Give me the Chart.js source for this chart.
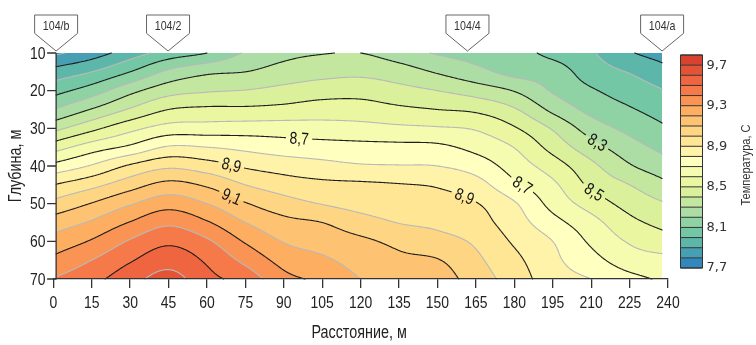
<!DOCTYPE html>
<html>
<head>
<meta charset="utf-8">
<script src="https://cdn.jsdelivr.net/npm/chart.js@4.4.1/dist/chart.umd.min.js"></script>
<style>
  html, body { margin: 0; padding: 0; background: #fff; }
  #wrap { width: 756px; height: 345px; }
</style>
</head>
<body>
<div id="wrap"><canvas id="chart" width="756" height="345"></canvas></div>
<script>
// grid of the survey: distance along the line (m) and depth (m)
const DISTANCES = [0, 15, 30, 45, 60, 75, 90, 105, 120, 135, 150, 165, 180, 195, 210, 225, 240];
const DEPTHS = [10, 15, 20, 25, 30, 35, 40, 45, 50, 55, 60, 65, 70];

// temperature (C) in each column, from 10 m down to 70 m
const T_0   = [7.78, 7.936, 8.062, 8.20, 8.368, 8.554, 8.728, 8.90, 9.027, 9.145, 9.237, 9.322, 9.405];
const T_15  = [7.85, 8.00, 8.15, 8.306, 8.473, 8.65, 8.81, 8.97, 9.105, 9.213, 9.31, 9.40, 9.47];
const T_30  = [7.95, 8.10, 8.27, 8.41, 8.57, 8.72, 8.914, 9.057, 9.19, 9.305, 9.41, 9.49, 9.56];
const T_45  = [8.04, 8.22, 8.36, 8.50, 8.64, 8.81, 8.98, 9.13, 9.26, 9.38, 9.48, 9.56, 9.64];
const T_60  = [8.10, 8.28, 8.39, 8.52, 8.645, 8.80, 8.945, 9.085, 9.20, 9.31, 9.415, 9.485, 9.53];
const T_75  = [8.21, 8.30, 8.404, 8.52, 8.65, 8.775, 8.887, 9.00, 9.107, 9.20, 9.29, 9.375, 9.46];
const T_90  = [8.27, 8.34, 8.43, 8.53, 8.65, 8.75, 8.855, 8.95, 9.04, 9.13, 9.195, 9.265, 9.33];
const T_105 = [8.295, 8.366, 8.455, 8.55, 8.64, 8.74, 8.83, 8.925, 8.996, 9.10, 9.158, 9.218, 9.28];
const T_120 = [8.30, 8.375, 8.463, 8.545, 8.633, 8.73, 8.81, 8.916, 8.964, 9.04, 9.12, 9.16, 9.20];
const T_135 = [8.25, 8.345, 8.432, 8.52, 8.62, 8.726, 8.805, 8.905, 8.95, 8.997, 9.075, 9.12, 9.15];
const T_150 = [8.19, 8.29, 8.40, 8.50, 8.61, 8.72, 8.80, 8.89, 8.937, 8.978, 9.035, 9.105, 9.15];
const T_165 = [8.16, 8.23, 8.355, 8.48, 8.59, 8.67, 8.755, 8.84, 8.905, 8.94, 8.985, 9.02, 9.05];
const T_180 = [8.14, 8.17, 8.295, 8.41, 8.51, 8.597, 8.655, 8.72, 8.81, 8.846, 8.887, 8.925, 8.955];
const T_195 = [8.07, 8.15, 8.19, 8.276, 8.39, 8.465, 8.55, 8.62, 8.667, 8.735, 8.80, 8.823, 8.845];
const T_210 = [8.01, 8.05, 8.112, 8.17, 8.253, 8.34, 8.425, 8.48, 8.557, 8.635, 8.684, 8.735, 8.80];
const T_225 = [7.91, 7.994, 8.053, 8.11, 8.173, 8.24, 8.31, 8.40, 8.463, 8.527, 8.59, 8.65, 8.73];
const T_240 = [7.85, 7.927, 7.997, 8.052, 8.106, 8.165, 8.234, 8.315, 8.40, 8.464, 8.535, 8.625, 8.68];
const TEMP = [T_0, T_15, T_30, T_45, T_60, T_75, T_90, T_105, T_120, T_135, T_150, T_165, T_180, T_195, T_210, T_225, T_240];

// wells on the profile
const WELL_NAMES = ['104/b', '104/2', '104/4', '104/a'];
const WELL_X = [1.1, 44.8, 161.7, 237.7];
const PROFILE_START = 1.1;
const PROFILE_END = 237.7;

// isotherm levels (colour bands) and labelled ticks
const LEVELS = [7.7, 7.8, 7.9, 8.0, 8.1, 8.2, 8.3, 8.4, 8.5, 8.6, 8.7, 8.8, 8.9, 9.0, 9.1, 9.2, 9.3, 9.4, 9.5, 9.6, 9.7, 9.8];
const CBAR_TICKS = [7.7, 8.1, 8.5, 8.9, 9.3, 9.7];
const X_TICKS = [0, 15, 30, 45, 60, 75, 90, 105, 120, 135, 150, 165, 180, 195, 210, 225, 240];
const Y_TICKS = [10, 20, 30, 40, 50, 60, 70];

// labelled isotherms: level, distance near which the label sits, rough depth
const LABEL_LEVELS = [8.9, 9.1, 8.7, 8.9, 8.7, 8.5, 8.3];
const LABEL_X = [69.5, 69.5, 96, 160.4, 183, 211, 212.3];
const LABEL_D = [40.1, 48.0, 32.6, 47.6, 45.4, 47.2, 33.9];

// no condensed face is installed, so text is squeezed to look like Arial Narrow
const SANS = '"Liberation Sans", Arial, sans-serif';
const SQUEEZE = 0.82;
const SPECTRAL = ['#5e4fa2', '#3288bd', '#66c2a5', '#abdda4', '#e6f598', '#ffffbf', '#fee08b', '#fdae61', '#f46d43', '#d8432f', '#9e0142'];
const CMAP_MIN = 7.5, CMAP_MAX = 10.0;

function hexRgb(h) {
  return [parseInt(h.slice(1, 3), 16), parseInt(h.slice(3, 5), 16), parseInt(h.slice(5, 7), 16)];
}
function cmap(v) {
  let t = (v - CMAP_MIN) / (CMAP_MAX - CMAP_MIN);
  t = Math.max(0, Math.min(1, t));
  const n = SPECTRAL.length - 1;
  const k = Math.min(n - 1, Math.floor(t * n));
  const f = t * n - k;
  const a = hexRgb(SPECTRAL[k]), b = hexRgb(SPECTRAL[k + 1]);
  const c = a.map((v0, i) => Math.round(v0 + (b[i] - v0) * f));
  return 'rgb(' + c.join(',') + ')';
}
const BAND_COLORS = LEVELS.slice(0, -1).map((lv, i) => cmap((lv + LEVELS[i + 1]) / 2));

function bandIndex(t) {
  let i = 0;
  while (i < LEVELS.length - 2 && t >= LEVELS[i + 1]) i++;
  return i;
}

// smooth (Catmull-Rom) surface through the grid
function cr(p0, p1, p2, p3, t) {
  return 0.5 * (2 * p1 + (-p0 + p2) * t + (2 * p0 - 5 * p1 + 4 * p2 - p3) * t * t + (-p0 + 3 * p1 - 3 * p2 + p3) * t * t * t);
}
function node(ci, ri) {
  const nc = DISTANCES.length, nr = DEPTHS.length;
  if (ci < 0) return 2 * node(0, ri) - node(1, ri);
  if (ci >= nc) return 2 * node(nc - 1, ri) - node(nc - 2, ri);
  if (ri < 0) return 2 * node(ci, 0) - node(ci, 1);
  if (ri >= nr) return 2 * node(ci, nr - 1) - node(ci, nr - 2);
  return TEMP[ci][ri];
}
function locate(arr, v) {
  let i = 0;
  while (i < arr.length - 2 && v > arr[i + 1]) i++;
  const t = (v - arr[i]) / (arr[i + 1] - arr[i]);
  return [i, Math.max(0, Math.min(1, t))];
}
function field(x, d) {
  const [ci, u] = locate(DISTANCES, x);
  const [ri, v] = locate(DEPTHS, d);
  const r = [];
  for (let k = -1; k <= 2; k++) {
    r.push(cr(node(ci - 1, ri + k), node(ci, ri + k), node(ci + 1, ri + k), node(ci + 2, ri + k), u));
  }
  return cr(r[0], r[1], r[2], r[3], v);
}

function contourSegments(grid, gx, gd, level) {
  const segs = [];
  for (let j = 0; j < gd.length - 1; j++) {
    for (let i = 0; i < gx.length - 1; i++) {
      const a = grid[j][i], b = grid[j][i + 1], c = grid[j + 1][i + 1], e = grid[j + 1][i];
      const ha = a > level, hb = b > level, hc = c > level, he = e > level;
      if (ha === hb && hb === hc && hc === he) continue;
      const pts = [];
      pts.push(ha !== hb ? [gx[i] + (level - a) / (b - a) * (gx[i + 1] - gx[i]), gd[j]] : null);
      pts.push(hb !== hc ? [gx[i + 1], gd[j] + (level - b) / (c - b) * (gd[j + 1] - gd[j])] : null);
      pts.push(he !== hc ? [gx[i] + (level - e) / (c - e) * (gx[i + 1] - gx[i]), gd[j + 1]] : null);
      pts.push(ha !== he ? [gx[i], gd[j] + (level - a) / (e - a) * (gd[j + 1] - gd[j])] : null);
      const got = pts.filter(p => p);
      if (got.length === 2) {
        segs.push([got[0], got[1]]);
      } else if (got.length === 4) {
        const center = (a + b + c + e) / 4 > level;
        if (center === ha) { segs.push([pts[0], pts[1]]); segs.push([pts[2], pts[3]]); }
        else { segs.push([pts[3], pts[0]]); segs.push([pts[1], pts[2]]); }
      }
    }
  }
  return segs;
}

function fmt(v) { return v.toFixed(1).replace('.', ','); }

// text drawn with a horizontal squeeze along its own direction
function narrowText(ctx, text, x, y, angle, align) {
  ctx.save();
  ctx.translate(x, y);
  ctx.rotate(angle);
  ctx.scale(SQUEEZE, 1);
  ctx.textAlign = align;
  ctx.fillText(text, 0, 0);
  ctx.restore();
}

const contourPlugin = {
  id: 'contour',
  beforeDraw(chart) {
    const { ctx, scales: { x: xs, y: ys } } = chart;
    const px = v => xs.getPixelForValue(v);
    const py = v => ys.getPixelForValue(v);

    // filled bands, one pixel row at a time
    const pxStart = Math.round(px(PROFILE_START));
    const pxEnd = Math.round(px(PROFILE_END));
    const pyTop = Math.round(py(DEPTHS[0]));
    const pyBot = Math.round(py(DEPTHS[DEPTHS.length - 1]));
    const xv = [];
    for (let p = pxStart; p < pxEnd; p++) xv.push(xs.getValueForPixel(p + 0.5));
    ctx.save();
    for (let yy = pyTop; yy < pyBot; yy++) {
      const d = ys.getValueForPixel(yy + 0.5);
      let runStart = pxStart, runBand = -1;
      for (let k = 0; k <= xv.length; k++) {
        const band = k < xv.length ? bandIndex(field(xv[k], d)) : -2;
        if (band !== runBand) {
          if (runBand >= 0) {
            ctx.fillStyle = BAND_COLORS[runBand];
            ctx.fillRect(runStart, yy, pxStart + k - runStart, 1);
          }
          runBand = band;
          runStart = pxStart + k;
        }
      }
    }

    // fine grid for the isolines
    const NX = 480, ND = 240;
    const gx = [], gd = [], grid = [];
    for (let i = 0; i <= NX; i++) gx.push(PROFILE_START + (PROFILE_END - PROFILE_START) * i / NX);
    for (let j = 0; j <= ND; j++) gd.push(DEPTHS[0] + (DEPTHS[DEPTHS.length - 1] - DEPTHS[0]) * j / ND);
    for (let j = 0; j <= ND; j++) grid.push(gx.map(x => field(x, gd[j])));

    // place labels on their isolines
    ctx.font = '17px ' + SANS;
    const labels = LABEL_LEVELS.map((lv, i) => {
      const x = LABEL_X[i];
      let best = LABEL_D[i], bestDist = 1e9;
      for (let d = LABEL_D[i] - 6; d < LABEL_D[i] + 6; d += 0.05) {
        const f0 = field(x, d) - lv, f1 = field(x, d + 0.05) - lv;
        if (f0 * f1 <= 0) {
          const dc = d + 0.05 * f0 / (f0 - f1);
          if (Math.abs(dc - LABEL_D[i]) < bestDist) { bestDist = Math.abs(dc - LABEL_D[i]); best = dc; }
        }
      }
      const h = 1, k = 0.5;
      const gxp = (field(x + h, best) - field(x - h, best)) / (px(x + h) - px(x - h));
      const gyp = (field(x, best + k) - field(x, best - k)) / (py(best + k) - py(best - k));
      let ang = Math.atan2(gxp, -gyp);
      if (ang > Math.PI / 2) ang -= Math.PI;
      if (ang < -Math.PI / 2) ang += Math.PI;
      const text = fmt(lv);
      return { text, cx: px(x), cy: py(best), ang, w: ctx.measureText(text).width * SQUEEZE + 7, h: 14 };
    });

    // isolines, with gaps where the labels go
    ctx.beginPath();
    ctx.rect(pxStart - 2, pyTop - 2, pxEnd - pxStart + 4, pyBot - pyTop + 4);
    labels.forEach(l => {
      const c = Math.cos(l.ang), s = Math.sin(l.ang), hw = l.w / 2, hh = l.h / 2;
      const pts = [[-hw, -hh], [hw, -hh], [hw, hh], [-hw, hh]].map(([u, v]) => [l.cx + u * c - v * s, l.cy + u * s + v * c]);
      ctx.moveTo(pts[0][0], pts[0][1]);
      for (let q = 1; q < 4; q++) ctx.lineTo(pts[q][0], pts[q][1]);
      ctx.closePath();
    });
    ctx.clip('evenodd');
    ctx.lineCap = 'round';
    ctx.lineJoin = 'round';
    [false, true].forEach(major => {
      LEVELS.forEach(lv => {
        const isMajor = Math.round(lv * 10) % 2 === 1;
        if (isMajor !== major) return;
        const segs = contourSegments(grid, gx, gd, lv);
        ctx.beginPath();
        segs.forEach(([p, q]) => {
          ctx.moveTo(px(p[0]), py(p[1]));
          ctx.lineTo(px(q[0]), py(q[1]));
        });
        ctx.strokeStyle = major ? '#1e1e1e' : '#b9b9b9';
        ctx.lineWidth = 1.1;
        ctx.stroke();
      });
    });
    ctx.restore();

    // label text
    ctx.save();
    ctx.font = '17px ' + SANS;
    ctx.fillStyle = '#151515';
    ctx.textBaseline = 'middle';
    labels.forEach(l => narrowText(ctx, l.text, l.cx, l.cy + 1, l.ang, 'center'));
    ctx.restore();
  },
  afterDraw(chart) {
    const { ctx, chartArea: ca, scales: { x: xs, y: ys } } = chart;
    ctx.save();
    // depth axis sits on the start of the profile
    const ax = xs.getPixelForValue(PROFILE_START);
    ctx.strokeStyle = '#333';
    ctx.lineWidth = 1.3;
    ctx.beginPath();
    ctx.moveTo(ax, ys.getPixelForValue(Y_TICKS[0]));
    ctx.lineTo(ax, ys.getPixelForValue(Y_TICKS[Y_TICKS.length - 1]) + 0.6);
    Y_TICKS.forEach(v => {
      const yy = ys.getPixelForValue(v);
      ctx.moveTo(ax - 9, yy);
      ctx.lineTo(ax, yy);
    });
    ctx.stroke();

    // tick labels of both axes
    ctx.fillStyle = '#222';
    ctx.font = '17px ' + SANS;
    ctx.textBaseline = 'middle';
    X_TICKS.forEach(v => narrowText(ctx, String(v), xs.getPixelForValue(v), 303, 0, 'center'));
    Y_TICKS.forEach(v => narrowText(ctx, String(v), 45.5, ys.getPixelForValue(v) + 1, 0, 'right'));

    // axis titles
    ctx.font = '17.5px ' + SANS;
    narrowText(ctx, 'Расстояние, м', xs.getPixelForValue((PROFILE_START + PROFILE_END) / 2), 333, 0, 'center');
    narrowText(ctx, 'Глубина, м', 16.5, (ca.top + ca.bottom) / 2, -Math.PI / 2, 'center');

    // well tags
    ctx.font = '13px ' + SANS;
    WELL_NAMES.forEach((name, i) => {
      const cx = xs.getPixelForValue(WELL_X[i]);
      const tipY = ca.top - 2, shoulderY = ca.top - 19.7, boxTop = ca.top - 38, hw = 21.5;
      ctx.beginPath();
      ctx.moveTo(cx - hw, boxTop);
      ctx.lineTo(cx + hw, boxTop);
      ctx.lineTo(cx + hw, shoulderY);
      ctx.lineTo(cx, tipY);
      ctx.lineTo(cx - hw, shoulderY);
      ctx.closePath();
      ctx.fillStyle = '#fff';
      ctx.fill();
      ctx.strokeStyle = '#666';
      ctx.lineWidth = 1;
      ctx.stroke();
      ctx.fillStyle = '#333';
      narrowText(ctx, name, cx, boxTop + 11.5, 0, 'center');
    });

    // colour bar
    const cbL = 680.5, cbW = 22, cbT = 55, cbB = 268;
    const lo = LEVELS[0], hi = LEVELS[LEVELS.length - 1];
    const cy = v => cbB - (v - lo) / (hi - lo) * (cbB - cbT);
    BAND_COLORS.forEach((col, i) => {
      const y0 = cy(LEVELS[i + 1]), y1 = cy(LEVELS[i]);
      ctx.fillStyle = col;
      ctx.fillRect(cbL, y0, cbW, y1 - y0);
    });
    ctx.strokeStyle = '#333';
    ctx.lineWidth = 1;
    ctx.beginPath();
    LEVELS.forEach(v => { ctx.moveTo(cbL, cy(v)); ctx.lineTo(cbL + cbW, cy(v)); });
    ctx.rect(cbL, cbT, cbW, cbB - cbT);
    ctx.stroke();
    ctx.fillStyle = '#333';
    ctx.font = '13px "DejaVu Sans", sans-serif';
    ctx.textAlign = 'left';
    CBAR_TICKS.forEach(v => ctx.fillText(fmt(v), cbL + cbW + 4, cy(v)));
    ctx.font = '13.5px ' + SANS;
    narrowText(ctx, 'Температура, С', 746, 165, -Math.PI / 2, 'center');
    ctx.restore();
  }
};

new Chart(document.getElementById('chart'), {
  type: 'scatter',
  data: { datasets: [{ data: [], showLine: false }] },
  options: {
    responsive: false,
    animation: false,
    layout: { padding: { left: 0, right: 88, top: 53, bottom: 0 } },
    plugins: { legend: { display: false }, tooltip: { enabled: false } },
    scales: {
      x: {
        type: 'linear',
        min: 0,
        max: 240,
        afterBuildTicks: s => { s.ticks = X_TICKS.map(v => ({ value: v })); },
        afterFit: s => { s.height = 66; },
        grid: { drawOnChartArea: false, drawTicks: true, tickLength: 9, color: '#333', lineWidth: 1.3 },
        border: { display: true, color: '#333', width: 1.3 },
        ticks: { display: false, autoSkip: false, maxRotation: 0 }
      },
      y: {
        type: 'linear',
        reverse: true,
        min: 10,
        max: 70,
        afterBuildTicks: s => { s.ticks = Y_TICKS.map(v => ({ value: v })); },
        afterFit: s => { s.width = 53.3; },
        grid: { display: false, drawTicks: false },
        border: { display: false },
        ticks: { display: false }
      }
    }
  },
  plugins: [contourPlugin]
});
</script>
</body>
</html>
